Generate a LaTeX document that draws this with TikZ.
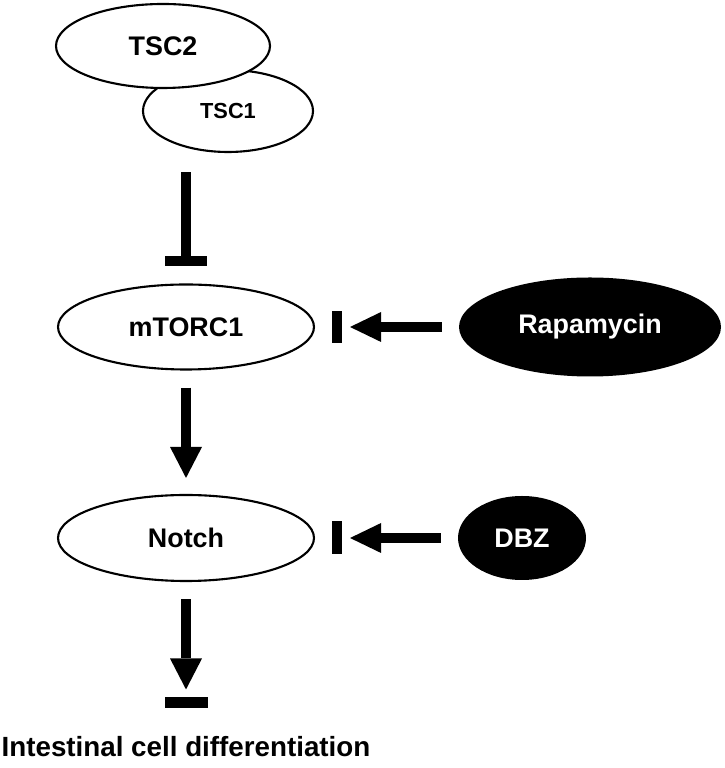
\documentclass[tikz,border=0pt]{standalone}
\usepackage{fontspec}
\setmainfont{Liberation Sans}
\usetikzlibrary{arrows.meta, positioning, shapes.geometric}

\tikzset{
  protein/.style={draw, ellipse, line width=1.2pt, fill=white, inner sep=0pt,
    font=\fontsize{15.3}{18}\selectfont\bfseries},
  drug/.style={ellipse, fill=black, text=white, inner sep=0pt,
    font=\fontsize{15.3}{18}\selectfont\bfseries},
  blocker/.style={fill=black, inner sep=0pt, outer sep=0pt},
  promote/.style={line width=2mm, -{Triangle[width=#1,length=6.2mm,line width=0pt]}},
  promote/.default=6.4mm,
  inhibit/.style={line width=2mm, -{Rectangle[width=8.4mm,length=2mm,line width=0pt]}}
}

\begin{document}
\begin{tikzpicture}
  \useasboundingbox (0,0) rectangle (14.48,15.36);
  % TSC complex
  \node[protein, minimum width=3.4cm, minimum height=1.64cm,
    font=\fontsize{12.4}{15}\selectfont\bfseries] (tsc1) at (4.56,13.14) {TSC1};
  \node[protein, minimum width=4.28cm, minimum height=1.68cm] (tsc2) at (3.26,14.44) {TSC2};
  % pathway
  \node[protein, minimum width=5.12cm, minimum height=1.7cm] (mtor) at (3.72,8.82) {mTORC1};
  \node[protein, minimum width=5.12cm, minimum height=1.72cm] (notch) at (3.72,4.6) {Notch};
  \node[font=\fontsize{15.8}{18}\selectfont\bfseries, inner sep=0pt] (diff) at (3.72,0.42)
    {Intestinal cell differentiation};
  % inhibitors
  \node[drug, minimum width=5.24cm, minimum height=1.98cm] (rapa) at (11.8,8.82) {Rapamycin};
  \node[drug, minimum width=2.56cm, minimum height=1.68cm] (dbz) at (10.44,4.6) {DBZ};
  % bars
  \node[blocker, minimum width=0.2cm, minimum height=0.64cm, right=0.34cm of mtor] (rapabar) {};
  \node[blocker, minimum width=0.2cm, minimum height=0.66cm, right=0.34cm of notch] (dbzbar) {};
  \node[blocker, minimum width=0.86cm, minimum height=0.22cm, above=0.56cm of diff] (diffbar) {};

  \coordinate (tscfoot) at (mtor |- tsc1.south);
  \draw[inhibit, shorten <=0.38cm, shorten >=0.34cm] (tscfoot) -- (mtor);
  \draw[promote, shorten <=0.34cm, shorten >=0.32cm] (mtor) -- (notch);
  \draw[promote, shorten <=0.34cm, shorten >=0.16cm] (notch) -- (diffbar);
  \draw[promote=6mm, shorten <=0.34cm, shorten >=0.16cm] (rapa) -- (rapabar);
  \draw[promote=6mm, shorten <=0.34cm, shorten >=0.16cm] (dbz) -- (dbzbar);
\end{tikzpicture}
\end{document}
